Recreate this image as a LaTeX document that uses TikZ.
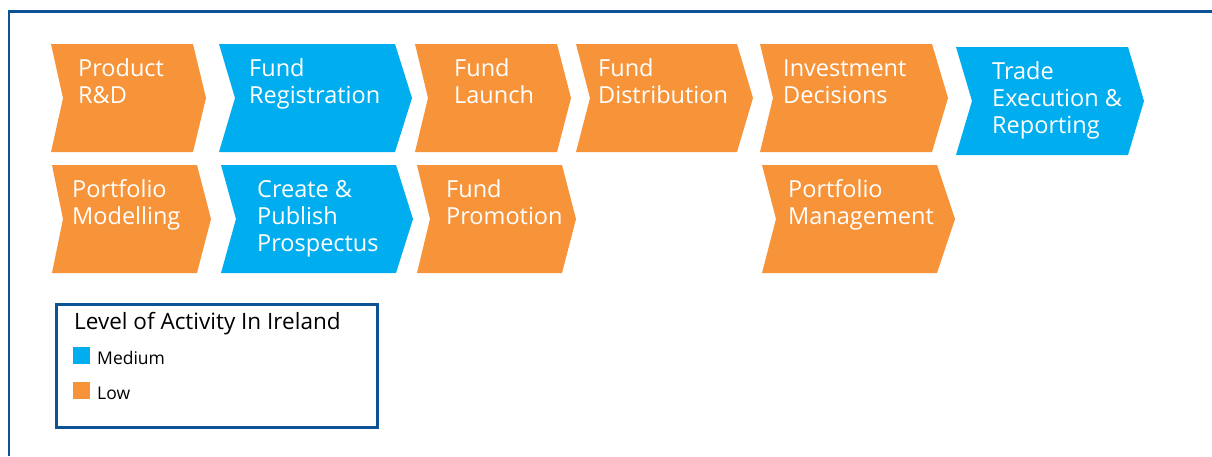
\documentclass[tikz,border=0pt]{standalone}
\usepackage{fontspec}
\setmainfont{Open Sans}
\definecolor{orangefill}{HTML}{F7943A}
\definecolor{bluefill}{HTML}{00AEEF}
\definecolor{framecol}{HTML}{0B5394}
\tikzset{
  chevlbl/.style={anchor=base west, inner sep=0pt, text=white, align=left,
    font=\fontsize{23.5}{27}\selectfont},
  legtitle/.style={anchor=base west, inner sep=0pt, text=black, font=\fontsize{22.5}{24}\selectfont},
  legitem/.style={anchor=base west, inner sep=0pt, text=black, font=\fontsize{17.5}{20}\selectfont},
}
% #1 left x, #2 notch x, #3 right x, #4 tip x, #5 top y, #6 bottom y, #7 colour
\newcommand{\chevshape}[7]{%
  \fill[#7] (#1,#5) -- (#3,#5) -- (#4,{(#5+#6)/2}) -- (#3,#6) -- (#1,#6) -- (#2,{(#5+#6)/2}) -- cycle;}
\begin{document}
\begin{tikzpicture}[x=1pt,y=-1pt]
\useasboundingbox (0,0) rectangle (1212,456);
\fill[white] (0,0) rectangle (1212,456);
% outer frame
\draw[framecol, line width=2.5pt] (9,456) -- (9,11.5) -- (1212,11.5);
% row 1
\chevshape{51}{63}{193}{206}{44}{152}{orangefill}
\chevshape{219}{235}{395}{412}{44}{152}{bluefill}
\chevshape{415}{428}{557}{571}{44}{152}{orangefill}
\chevshape{576}{590}{737}{753}{44}{152}{orangefill}
\chevshape{760}{773}{932}{948}{44}{152}{orangefill}
\chevshape{956}{972}{1128}{1144}{47}{155}{bluefill}
% row 2
\chevshape{52}{63}{197}{211}{165}{273}{orangefill}
\chevshape{221}{236}{396}{413}{165}{273}{bluefill}
\chevshape{417}{430}{562}{576}{165}{273}{orangefill}
\chevshape{762}{776}{937}{955}{165}{273}{orangefill}
% labels (anchor = baseline of last line)
\node[chevlbl] (prd) at (78,103) {Product\\R\&D};
\node[chevlbl] (freg) at (249,103) {Fund\\Registration};
\node[chevlbl] (flaunch) at (454,103) {Fund\\Launch};
\node[chevlbl] (fdist) at (598,103) {Fund\\Distribution};
\node[chevlbl] (inv) at (783,103) {Investment\\Decisions};
\node[chevlbl] (trade) at (992,133) {Trade\\Execution \&\\Reporting};
\node[chevlbl] (pmod) at (72,224) {Portfolio\\Modelling};
\node[chevlbl] (create) at (257,251) {Create \&\\Publish\\Prospectus};
\node[chevlbl] (fprom) at (446,224) {Fund\\Promotion};
\node[chevlbl] (pman) at (788,224) {Portfolio\\Management};
% legend
\draw[framecol, line width=3pt] (56.5,304.5) rectangle (377,427);
\node[legtitle] (legt) at (74,329) {Level of Activity In Ireland};
\fill[bluefill] (73,347) rectangle (90,364);
\node[legitem] (legm) at (97,364) {Medium};
\fill[orangefill] (73,382) rectangle (90,399);
\node[legitem] (legl) at (97,399) {Low};
\end{tikzpicture}
\end{document}
